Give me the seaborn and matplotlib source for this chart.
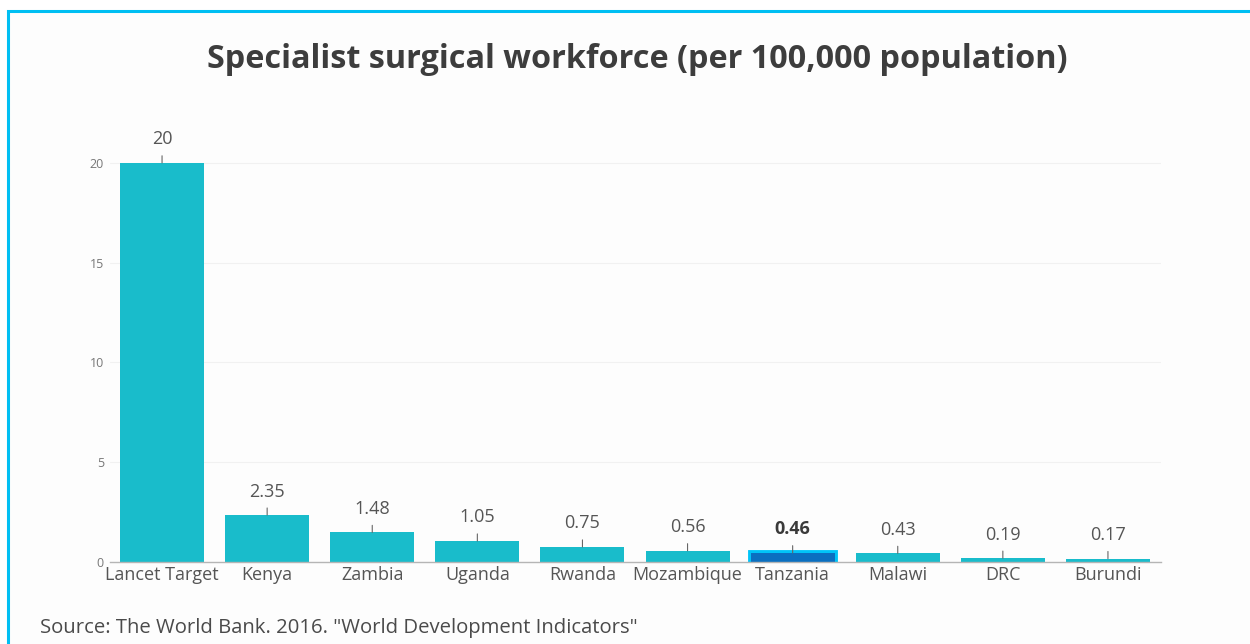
import matplotlib
matplotlib.use("Agg")
import matplotlib.pyplot as plt
import matplotlib.patheffects as pe
from matplotlib.patches import Rectangle
import pandas as pd
import seaborn as sns

# Specialist surgeons, anaesthetists and obstetricians per 100,000 people
countries = ["Lancet Target", "Kenya", "Zambia", "Uganda", "Rwanda",
             "Mozambique", "Tanzania", "Malawi", "DRC", "Burundi"]
workforce = [20, 2.35, 1.48, 1.05, 0.75, 0.56, 0.46, 0.43, 0.19, 0.17]
value_labels = ["20", "2.35", "1.48", "1.05", "0.75", "0.56", "0.46", "0.43", "0.19", "0.17"]
y_ticks = [0, 5, 10, 15, 20]
highlight = "Tanzania"

sns.set_theme(style="white")
plt.rcParams["font.family"] = ["Open Sans", "DejaVu Sans"]

W, H = 1250, 644
fig = plt.figure(figsize=(W / 100, H / 100), dpi=100)
fig.patch.set_facecolor("white")

# framed panel behind the chart
fig.patches.append(Rectangle((8 / W, -0.1), 1.2, 1 - 11 / H + 0.1,
                             transform=fig.transFigure, facecolor="#fdfdfd",
                             edgecolor="#00bff3", lw=2.2, zorder=-5))

ax = fig.add_axes([109.5 / W, 82 / H, 1051 / W, 429 / H])
ax.set_facecolor("none")
ax.set_zorder(2)

df = pd.DataFrame({"country": countries, "value": workforce})
palette = {c: ("#0b6fc0" if c == highlight else "#19bccb") for c in countries}
sns.barplot(data=df, x="country", y="value", hue="country", palette=palette,
            order=countries, hue_order=countries, width=0.8, saturation=1,
            legend=False, ax=ax)

for patch, country in zip(ax.patches, countries):
    patch.set_linewidth(0)
    if country == highlight:
        # outline drawn outside the fill so the dark bar stays visible
        patch.set_edgecolor("#00c4f8")
        patch.set_path_effects([pe.Stroke(linewidth=4.2, foreground="#00c4f8"),
                                pe.Normal()])

for i, (v, lab, c) in enumerate(zip(workforce, value_labels, countries)):
    ax.annotate(lab, xy=(i, v), xytext=(0, 10.5), textcoords="offset points",
                ha="center", va="bottom", fontsize=13,
                color="#3a3a3a" if c == highlight else "#555555",
                fontweight="bold" if c == highlight else "normal",
                arrowprops=dict(arrowstyle="-", color="#666666", lw=0.8,
                                shrinkA=3, shrinkB=0))

ax.set_xlim(-0.5, len(countries) - 0.5)
ax.set_ylim(0, 21.5)
ax.set_yticks(y_ticks)
ax.yaxis.grid(True, color="#f1f1f1", lw=0.8)
ax.set_axisbelow(True)
for side in ["top", "right", "left"]:
    ax.spines[side].set_visible(False)
ax.spines["bottom"].set_color("#b5b5b5")
ax.spines["bottom"].set_linewidth(1.0)
ax.tick_params(axis="y", length=0, pad=4, labelsize=9, labelcolor="#777777")
ax.tick_params(axis="x", length=0, pad=3, labelsize=13, labelcolor="#555555")
ax.set_xlabel("")
ax.set_ylabel("")

fig.text(0.51, 1 - 59 / H, "Specialist surgical workforce (per 100,000 population)",
         ha="center", va="center", fontsize=23.3, fontweight="bold", color="#3d3d3d")
fig.text(40 / W, 1 - 628 / H, 'Source: The World Bank. 2016. "World Development Indicators"',
         ha="left", va="center", fontsize=14.6, color="#4a4a4a")

fig.savefig("out.png", dpi=100)
